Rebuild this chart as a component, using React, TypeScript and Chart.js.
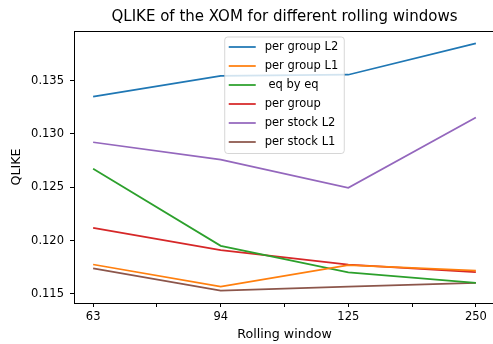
import React, { useEffect, useRef } from "react";
import { Chart, registerables } from "chart.js";

Chart.register(...registerables);

const categories = ["63", "94", "125", "250"];
const seriesNames = ["per group L2", "per group L1", " eq by eq", "per group", "per stock L2", "per stock L1"];
const perGroupL2 = [0.1335, 0.13545, 0.13555, 0.13849];
const perGroupL1 = [0.11776, 0.11568, 0.1177, 0.11718];
const eqByEq = [0.12673, 0.11951, 0.11702, 0.11603];
const perGroup = [0.12119, 0.11911, 0.11774, 0.11705];
const perStockL2 = [0.12922, 0.1276, 0.12495, 0.13155];
const perStockL1 = [0.11739, 0.11531, 0.11568, 0.11603];
const seriesColors = ["#1f77b4", "#ff7f0e", "#2ca02c", "#d62728", "#9467bd", "#8c564b"];
const yMin = 0.11415;
const yMax = 0.13965;
const titleText = "QLIKE of the XOM for different rolling windows";

const FONT = "DejaVu Sans";

const decorPlugin = {
  id: "decor",
  afterDraw(chart: any) {
    const { ctx, chartArea } = chart;
    ctx.save();
    // top and right spines
    ctx.strokeStyle = "#000";
    ctx.lineWidth = 1;
    ctx.beginPath();
    ctx.moveTo(chartArea.left, Math.round(chartArea.top) + 0.5);
    ctx.lineTo(chartArea.right, Math.round(chartArea.top) + 0.5);
    ctx.moveTo(Math.round(chartArea.right) + 0.5, chartArea.top);
    ctx.lineTo(Math.round(chartArea.right) + 0.5, chartArea.bottom);
    ctx.stroke();
    // title
    ctx.fillStyle = "#000";
    ctx.font = `15px "${FONT}"`;
    ctx.textAlign = "center";
    ctx.textBaseline = "middle";
    ctx.fillText(titleText, (chartArea.left + chartArea.right) / 2, chartArea.top - 13.5);

    // legend
    const ds = chart.data.datasets;
    ctx.font = `11.5px "${FONT}"`;
    let maxW = 0;
    ds.forEach((d: any) => {
      maxW = Math.max(maxW, ctx.measureText(d.label).width);
    });
    const boxW = 40 + maxW + 6;
    const rowH = 19;
    const boxH = 10 + rowH * (ds.length - 1) + 11.5;
    const cx = (chartArea.left + chartArea.right) / 2;
    const bx = cx - boxW / 2;
    const by = chartArea.top + 6;
    const r = 3;
    ctx.beginPath();
    ctx.moveTo(bx + r, by);
    ctx.lineTo(bx + boxW - r, by);
    ctx.quadraticCurveTo(bx + boxW, by, bx + boxW, by + r);
    ctx.lineTo(bx + boxW, by + boxH - r);
    ctx.quadraticCurveTo(bx + boxW, by + boxH, bx + boxW - r, by + boxH);
    ctx.lineTo(bx + r, by + boxH);
    ctx.quadraticCurveTo(bx, by + boxH, bx, by + boxH - r);
    ctx.lineTo(bx, by + r);
    ctx.quadraticCurveTo(bx, by, bx + r, by);
    ctx.closePath();
    ctx.fillStyle = "rgba(255,255,255,0.8)";
    ctx.fill();
    ctx.strokeStyle = "rgba(204,204,204,0.8)";
    ctx.lineWidth = 1;
    ctx.stroke();
    ds.forEach((d: any, i: number) => {
      const yy = by + 10 + i * rowH;
      ctx.strokeStyle = d.borderColor;
      ctx.lineWidth = 1.75;
      ctx.beginPath();
      ctx.moveTo(bx + 4, yy);
      ctx.lineTo(bx + 31, yy);
      ctx.stroke();
      ctx.fillStyle = "#000";
      ctx.textAlign = "left";
      ctx.textBaseline = "middle";
      ctx.fillText(d.label, bx + 40, yy);
    });
    ctx.restore();
  },
};

export default function App() {
  const ref = useRef<HTMLCanvasElement | null>(null);
  useEffect(() => {
    if (!ref.current) return;
    const all = [perGroupL2, perGroupL1, eqByEq, perGroup, perStockL2, perStockL1];
    const chart = new Chart(ref.current, {
      type: "line",
      data: {
        datasets: all.map((vals, i) => ({
          label: seriesNames[i],
          data: vals.map((v, j) => ({ x: j, y: v })),
          borderColor: seriesColors[i],
          backgroundColor: seriesColors[i],
          borderWidth: 1.75,
          pointRadius: 0,
          tension: 0,
          fill: false,
        })),
      },
      options: {
        animation: false,
        responsive: false,
        devicePixelRatio: 1,
        layout: { padding: { left: 0, right: 7, top: 31, bottom: 0 } },
        plugins: { legend: { display: false }, tooltip: { enabled: false }, title: { display: false } },
        scales: {
          x: {
            type: "linear",
            min: -0.15,
            max: 3.15,
            afterFit: (s: any) => {
              s.height = 41;
            },
            ticks: {
              stepSize: 0.5,
              includeBounds: false,
              autoSkip: false,
              maxRotation: 0,
              padding: 3,
              color: "#000",
              font: { family: FONT, size: 11.5 },
              callback: (v: any) => (Number.isInteger(v) ? categories[Math.abs(v)] : ""),
            },
            grid: { display: true, drawOnChartArea: false, drawTicks: true, tickLength: 4, tickColor: "#000", tickWidth: 1 },
            border: { display: true, color: "#000", width: 1 },
            title: { display: true, text: "Rolling window", color: "#000", font: { family: FONT, size: 12.65 }, padding: { top: 0, bottom: 1.5 } },
          },
          y: {
            type: "linear",
            min: yMin,
            max: yMax,
            afterFit: (s: any) => {
              s.width = 74;
            },
            ticks: {
              stepSize: 0.005,
              includeBounds: false,
              padding: 6,
              color: "#000",
              font: { family: FONT, size: 11.5 },
              callback: (v: any) => Number(v).toFixed(3),
            },
            grid: { display: true, drawOnChartArea: false, drawTicks: true, tickLength: 4, tickColor: "#000", tickWidth: 1 },
            border: { display: true, color: "#000", width: 1 },
            title: { display: true, text: "QLIKE", color: "#000", font: { family: FONT, size: 12.65 }, padding: { top: 9, bottom: 0 } },
          },
        },
      },
      plugins: [decorPlugin],
    } as any);
    return () => chart.destroy();
  }, []);
  return (
    <div style={{ position: "fixed", left: 0, top: 0, width: 493, height: 344, overflow: "hidden", background: "#fff" }}>
      <canvas ref={ref} width={502} height={344} style={{ width: 502, height: 344, display: "block" }} />
    </div>
  );
}
